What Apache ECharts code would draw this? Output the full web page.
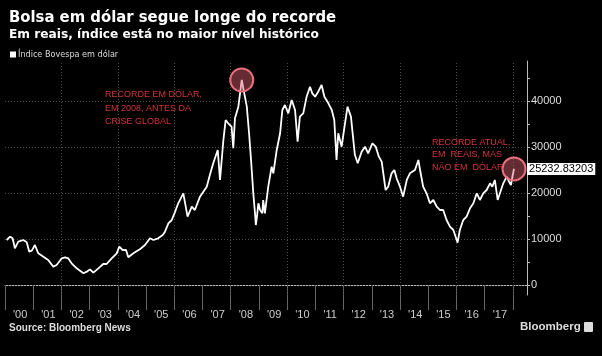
<!DOCTYPE html>
<html><head><meta charset="utf-8">
<script src="https://cdn.jsdelivr.net/npm/echarts@6/dist/echarts.min.js"></script>
<style>html,body{margin:0;padding:0;background:#000}#c{width:602px;height:356px}</style>
</head><body><div id="c"></div><script>
// time positions (decimal years) and Ibovespa in USD
const times = [2000.06,2000.18,2000.27,2000.35,2000.42,2000.47,2000.65,2000.77,2000.86,2000.95,
2001.06,2001.18,2001.36,2001.53,2001.71,2001.83,2002.01,2002.13,2002.24,2002.36,2002.54,2002.78,2002.90,
2003.01,2003.13,2003.31,2003.48,2003.60,2003.78,2003.96,2004.05,2004.17,2004.29,2004.37,2004.55,2004.78,2004.96,
2005.14,2005.26,2005.43,2005.59,2005.67,2005.79,2005.91,2006.02,2006.14,2006.32,2006.47,2006.62,2006.73,2006.91,
2007.03,2007.15,2007.26,2007.38,2007.54,2007.62,2007.74,2007.82,2007.91,2008.03,2008.09,2008.15,2008.27,2008.39,
2008.48,2008.57,2008.65,2008.72,2008.80,2008.86,2008.89,2008.93,2008.98,2009.04,2009.12,2009.15,2009.21,2009.33,
2009.45,2009.51,2009.63,2009.75,2009.83,2009.92,2010.04,2010.16,2010.28,2010.37,2010.45,2010.57,2010.69,2010.81,
2010.89,2010.99,2011.10,2011.22,2011.32,2011.46,2011.58,2011.67,2011.75,2011.81,2011.93,2012.05,2012.14,2012.26,
2012.40,2012.50,2012.64,2012.76,2012.87,2013.02,2013.14,2013.25,2013.35,2013.49,2013.58,2013.70,2013.80,2013.88,
2014.00,2014.11,2014.24,2014.35,2014.53,2014.65,2014.71,2014.82,2014.94,2015.06,2015.18,2015.30,2015.42,2015.53,
2015.65,2015.77,2015.89,2015.97,2016.04,2016.12,2016.24,2016.36,2016.48,2016.60,2016.72,2016.83,2016.95,2017.07,
2017.19,2017.27,2017.36,2017.46,2017.54,2017.66,2017.78,2017.86,2017.93,2017.99,2018.04];
const values = [9780,10500,10150,7980,7800,9420,9780,9300,7240,7460,
8700,6890,6160,5440,3990,4350,5800,6020,5800,4710,3620,2540,2900,
3400,2680,3620,4570,4570,5800,6890,8330,7610,7610,6020,6890,7750,8700,
10150,9780,10150,10870,11590,13410,14130,15800,17760,19930,14850,17020,16300,19200,
20290,21370,23910,26460,29350,22830,31520,35870,35150,34410,29720,36240,38760,44570,
41670,38760,32980,27180,19930,15590,13040,14850,17760,16300,15590,18480,15590,21370,
25720,24270,29350,32980,38040,39130,37320,40220,38040,31160,36600,37320,40940,43110,
41670,40940,42020,43480,40940,39500,38040,35870,27180,32980,30070,35150,38760,36600,
28300,26460,28980,30070,28630,30800,30070,27900,26820,20650,21370,24280,25000,23190,
21370,19200,22830,24280,25000,27180,25000,21370,19930,17760,18480,17020,16300,16300,
14130,12670,11960,10500,9200,11960,14130,14860,16670,17760,19930,18480,19930,20650,
22110,21370,22830,18480,19930,22110,23550,22470,21740,23800,25232.83203];
const seriesName = 'Índice Bovespa em dólar';
const yearTicks = [2000,2001,2002,2003,2004,2005,2006,2007,2008,2009,2010,2011,2012,2013,2014,2015,2016,2017,2018];
const yearLabels = ["'00","'01","'02","'03","'04","'05","'06","'07","'08","'09","'10","'11","'12","'13","'14","'15","'16","'17"];
const xGridYears = [2002,2004,2006,2008,2010,2012,2014,2016,2018];
const yTickValues = [0,5000,10000,15000,20000,25000,30000,35000,40000,45000];
const yLabelValues = [0,10000,20000,30000,40000];

const data = times.map((t,i)=>[t, values[i]]);
let peakIdx = 0; values.forEach((v,i)=>{ if(v>values[peakIdx]) peakIdx=i; });
const lastIdx = values.length-1;

const chart = echarts.init(document.getElementById('c'), null, {renderer:'canvas'});
chart.setOption({
  backgroundColor:'#000',
  animation:false,
  title:{
    text:'Bolsa em dólar segue longe do recorde',
    subtext:'Em reais, índice está no maior nível histórico',
    left:4, top:4, itemGap:3,
    textStyle:{color:'#fff', fontSize:16.5, fontWeight:'bold', fontFamily:'DejaVu Sans Condensed, DejaVu Sans'},
    subtextStyle:{color:'#fff', fontSize:12.2, fontWeight:'bold', fontFamily:'DejaVu Sans'}
  },
  legend:{
    left:5, top:45, icon:'rect', itemWidth:6, itemHeight:6, itemGap:3,
    textStyle:{color:'#ddd', fontSize:9, fontFamily:'DejaVu Sans Condensed, DejaVu Sans', padding:[0,0,0,-3]},
    data:[{name:seriesName, itemStyle:{color:'#fff'}}]
  },
  grid:{left:5, right:75, top:61, bottom:61},
  xAxis:{
    type:'value', min:2000, max:2018.5,
    axisLine:{show:true, lineStyle:{color:'#bbb', width:1}},
    axisTick:{show:true, length:25, customValues:yearTicks, lineStyle:{color:'#666'}},
    axisLabel:{show:true, customValues:yearTicks.slice(0,18), align:'left', padding:[0,0,0,8], margin:14,
      color:'#ccc', fontSize:11, fontFamily:'Liberation Sans',
      formatter:v=>yearLabels[Math.round(v)-2000] || ''},
    splitLine:{show:false}
  },
  yAxis:{
    type:'value', min:-2174, max:48696, position:'right',
    axisLine:{show:true, lineStyle:{color:'#bbb', width:1}},
    axisTick:{show:true, length:3, customValues:yTickValues, lineStyle:{color:'#bbb'}},
    axisLabel:{show:true, customValues:yLabelValues, margin:4, color:'#ddd', fontSize:11, fontFamily:'Liberation Sans',
      formatter:v=>String(v)},
    splitLine:{show:false}
  },
  series:[{
    name:seriesName, type:'line', data:data, showSymbol:false, z:3,
    lineStyle:{color:'#fff', width:1.8}, itemStyle:{color:'#fff'},
    endLabel:{show:true, formatter:p=>String(p.value[1]), distance:13, color:'#000', backgroundColor:'#fff',
      fontSize:11, fontFamily:'Liberation Sans', padding:[1,2,0,2]},
    markLine:{
      silent:true, symbol:'none', z:1, label:{show:false},
      lineStyle:{color:'#4a4a4a', type:[1,2], width:1},
      data:[...yLabelValues.map(v=>({yAxis:v})), ...xGridYears.map(v=>({xAxis:v}))]
    },
    markPoint:{
      silent:true, symbol:'circle', symbolSize:23, z:5, label:{show:false},
      itemStyle:{color:'rgba(225,95,110,0.45)', borderColor:'#e8707e', borderWidth:2},
      data:[{coord:data[peakIdx]},{coord:data[lastIdx]}]
    }
  }],
  graphic:[
    {type:'text', left:105, top:88, z:10, style:{text:'RECORDE EM DÓLAR,\nEM 2008, ANTES DA\nCRISE GLOBAL', fill:'#d2353a', font:'9px "Liberation Sans"', lineHeight:13.5}},
    {type:'text', left:432, top:136, z:10, style:{text:'RECORDE ATUAL,\nEM  REAIS, MAS\nNÃO EM  DÓLAR', fill:'#d2353a', font:'9px "Liberation Sans"', lineHeight:12.5}},
    {type:'text', left:9, top:323, style:{text:'Source: Bloomberg News', fill:'#ddd', font:'bold 10px "Liberation Sans"'}},
    {type:'text', left:520, top:321, style:{text:'Bloomberg', fill:'#ddd', font:'bold 11.5px "Liberation Sans"'}},
    {type:'rect', left:584, top:322, shape:{width:9, height:10, r:1}, style:{fill:'#ddd'}}
  ]
});
</script></body></html>
